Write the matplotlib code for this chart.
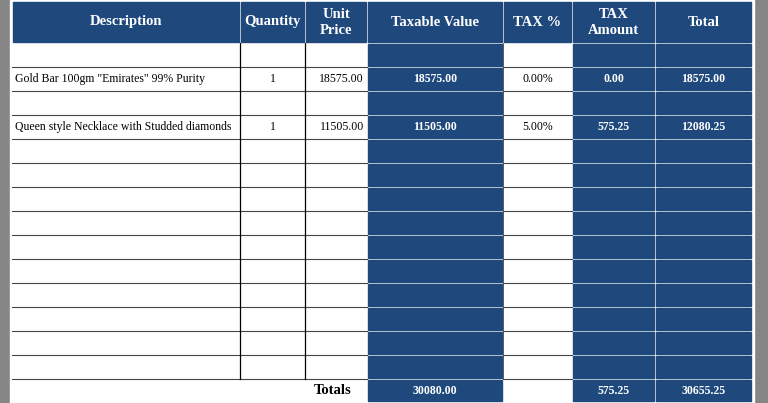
import matplotlib.pyplot as plt
from matplotlib.patches import Rectangle

headers = ["Description", "Quantity", "Unit\nPrice", "Taxable Value", "TAX %", "TAX\nAmount", "Total"]
descriptions = ["", 'Gold Bar 100gm "Emirates" 99% Purity', "", "Queen style Necklace with Studded diamonds"]
quantities = ["", "1", "", "1"]
unit_prices = ["", "18575.00", "", "11505.00"]
taxable = ["", "18575.00", "", "11505.00"]
tax_pct = ["", "0.00%", "", "5.00%"]
tax_amount = ["", "0.00", "", "575.25"]
totals = ["", "18575.00", "", "12080.25"]
total_row = ["30080.00", "575.25", "30655.25"]
n_rows = 14

edges = [12, 240, 305, 367, 503, 572, 655, 752]
blue_cols = [3, 5, 6]
BLUE = "#1f497d"
font = "Liberation Serif"

fig = plt.figure(figsize=(7.68, 4.03), dpi=100)
fig.patch.set_facecolor("#858585")
ax = fig.add_axes([0, 0, 1, 1])
ax.set_xlim(0, 768)
ax.set_ylim(403, 0)
ax.axis("off")

ax.add_patch(Rectangle((10, 0), 744, 403, color="white", zorder=0))

top, hh, rh = 2, 40, 24
body_top = top + hh + 1

# header
for i, h in enumerate(headers):
    x0, x1 = edges[i], edges[i + 1]
    ax.add_patch(Rectangle((x0 + 1, top), x1 - x0 - 2, hh, color=BLUE))
    ax.text((x0 + x1) / 2, top + hh / 2, h, color="white", ha="center", va="center",
            fontsize=10.5, fontweight="bold", family=font, linespacing=1.3)

cols = [descriptions, quantities, unit_prices, taxable, tax_pct, tax_amount, totals]
for r in range(n_rows):
    y0 = body_top + r * rh
    for c in range(7):
        x0, x1 = edges[c], edges[c + 1]
        if c in blue_cols:
            ax.add_patch(Rectangle((x0 + 1, y0 + 1), x1 - x0 - 2, rh - 2, color=BLUE))
        val = cols[c][r] if r < len(cols[c]) else ""
        if not val:
            continue
        if c == 0:
            ax.text(x0 + 3, y0 + rh / 2, val, ha="left", va="center", fontsize=8.5, family=font)
        elif c == 2:
            ax.text(x1 - 3, y0 + rh / 2, val, ha="right", va="center", fontsize=8.5, family=font)
        else:
            bold = c in blue_cols or c == 3
            ax.text((x0 + x1) / 2, y0 + rh / 2, val, ha="center", va="center", fontsize=8.5,
                    family=font, color="white" if c in blue_cols else "black",
                    fontweight="bold" if c in blue_cols else "normal")
    # horizontal lines over white cells
    for c in range(7):
        if c not in blue_cols:
            ax.plot([edges[c], edges[c + 1]], [y0 + rh, y0 + rh], color="#444444", lw=0.8)

body_bottom = body_top + n_rows * rh
for x in edges[1:3]:
    ax.plot([x, x], [body_top, body_bottom], color="black", lw=0.9)
ax.plot([edges[4], edges[4]], [body_top, body_bottom], color="#444444", lw=0.6)

# totals row
ty = body_bottom + 1
ax.text(edges[3] - 16, ty + 11, "Totals", ha="right", va="center", fontsize=10.5,
        fontweight="bold", family=font)
for c, val in zip(blue_cols, total_row):
    x0, x1 = edges[c], edges[c + 1]
    ax.add_patch(Rectangle((x0 + 1, ty), x1 - x0 - 2, 21, color=BLUE))
    ax.text((x0 + x1) / 2, ty + 10.5, val, ha="center", va="center", fontsize=8.5,
            family=font, color="white", fontweight="bold")

fig.savefig("out.png", dpi=100, facecolor=fig.get_facecolor())
